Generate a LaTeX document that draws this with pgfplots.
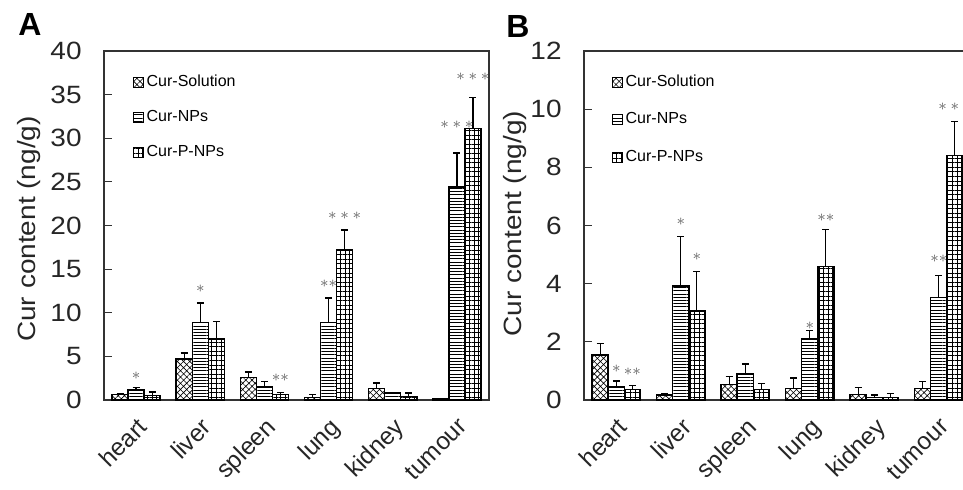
\documentclass[border=0pt]{standalone}
\usepackage{fontspec}
\setmainfont{Liberation Sans}
\newfontfamily\widefont[FakeStretch=1.12]{Liberation Sans}
\usepackage{pgfplots}
\usepackage{pgfplotstable}
\pgfplotsset{compat=1.18}
\usetikzlibrary{patterns.meta}

% organ order: heart liver spleen lung kidney tumour
\pgfplotstableread{
x sol solerr nps npserr pnps pnpserr
0 0.65 0.10 1.15 0.30 0.55 0.35
1 4.70 0.70 8.90 2.20 7.00 2.00
2 2.60 0.60 1.50 0.60 0.60 0.25
3 0.30 0.30 8.90 2.80 17.20 2.30
4 1.30 0.65 0.80 0.05 0.40 0.40
5 0.10 0.05 24.40 3.90 31.10 3.60
}\dataA

\pgfplotstableread{
x sol solerr nps npserr pnps pnpserr
0 1.55 0.40 0.45 0.20 0.37 0.12
1 0.17 0.06 3.92 1.70 3.06 1.35
2 0.54 0.27 0.89 0.35 0.37 0.20
3 0.40 0.35 2.10 0.30 4.60 1.27
4 0.18 0.26 0.08 0.09 0.09 0.14
5 0.40 0.24 3.53 0.76 8.40 1.18
}\dataB

\pgfplotsset{
  patchlegend/.style={legend image code/.code={\draw[##1,line width=0.5pt] (0pt,-2.5pt) rectangle (5pt,2.5pt);}},
  barbase/.style={ybar, bar width=0.25, bar shift=0pt, draw=black, line width=0.7pt, pattern color=black,
    error bars/y dir=plus, error bars/y explicit,
    error bars/error bar style={line width=0.6pt, black},
    error bars/error mark options={rotate=90, mark size=1.75pt, line width=0.7pt, black}, patchlegend},
  solbar/.style={barbase, pattern={Hatch[angle=45,distance=2.2pt,line width=0.3pt]}},
  npsbar/.style={barbase, pattern={Lines[angle=0,distance=1.6pt,line width=0.3pt]}},
  pnpsbar/.style={barbase, pattern={Hatch[angle=0,distance=2.3pt,line width=0.3pt]}},
  stars/.style={only marks, mark=none,
    nodes near coords, point meta=explicit symbolic,
    every node near coord/.style={anchor=center, inner sep=0pt, text=black!60, font=\fontsize{8}{9}\selectfont}},
  panel/.style={
    scale only axis, height=174.5pt, anchor=south west, clip=false,
    xmin=-0.5, xmax=5.5, ymin=0,
    xtick={0,...,5}, xticklabels={heart,liver,spleen,lung,kidney,tumour},
    xtick style={draw=none},
    xticklabel style={rotate=45, anchor=north east, inner sep=0pt, text=black!85, font=\fontsize{12.2}{14}\selectfont},
    xticklabel shift=8pt,
    ytick pos=left, tick align=inside, major tick length=4pt,
    ytick style={black!80, line width=0.5pt},
    yticklabel style={inner sep=0pt, xshift=-11pt, text=black!85, font=\widefont\fontsize{12.5}{14}\selectfont},
    /pgf/number format/assume math mode=true,
    axis line style={black!80, line width=0.6pt},
    ylabel={Cur content (ng/g)},
    ylabel style={font=\widefont\fontsize{12.5}{14}\selectfont, text=black!85, anchor=center},
    legend cell align=left,
    legend style={anchor=north west, draw=none, fill=none, inner sep=0pt,
      font=\fontsize{8}{9.6}\selectfont, nodes={inner sep=1.2pt}},
  }
}

\begin{document}
\begin{tikzpicture}
\path[use as bounding box] (0pt,0pt) rectangle (481.5pt,-244.5pt);

\node[font=\fontsize{16}{18}\selectfont\bfseries] at (15pt,-12pt) {A};
\node[font=\fontsize{16}{18}\selectfont\bfseries] at (259pt,-13pt) {B};

\begin{axis}[panel, at={(52pt,-200pt)}, width=192.5pt,
  ymax=40, ytick={0,5,...,40},
  ylabel style={at={(axis description cs:-0.196,0.49)}},
  legend style={at={(axis description cs:0.075,0.94)}, row sep=8pt}]
\addplot[solbar] table[x expr=\thisrow{x}-0.25, y=sol, y error=solerr] {\dataA};
\addplot[npsbar] table[x=x, y=nps, y error=npserr] {\dataA};
\addplot[pnpsbar] table[x expr=\thisrow{x}+0.25, y=pnps, y error=pnpserr] {\dataA};
\legend{Cur-Solution, Cur-NPs, Cur-P-NPs}
\addplot[stars] coordinates {
(0,2.75) [$\ast$]
(1,12.7) [$\ast$]
(2.25,2.6) [$\ast\ast$]
(3,13.3) [$\ast\ast$]
(3.25,21.1) [$\ast\ast\ast$]
(5,31.6) [$\ast\ast\ast$]
(5.25,37.0) [$\ast\ast\ast$]
};
\end{axis}

\begin{axis}[panel, at={(292pt,-200pt)}, width=193.5pt,
  ymax=12, ytick={0,2,...,12},
  ylabel style={at={(axis description cs:-0.178,0.505)}},
  legend style={at={(axis description cs:0.072,0.94)}, row sep=9.3pt}]
\addplot[solbar] table[x expr=\thisrow{x}-0.25, y=sol, y error=solerr] {\dataB};
\addplot[npsbar] table[x=x, y=nps, y error=npserr] {\dataB};
\addplot[pnpsbar] table[x expr=\thisrow{x}+0.25, y=pnps, y error=pnpserr] {\dataB};
\legend{Cur-Solution, Cur-NPs, Cur-P-NPs}
\addplot[stars] coordinates {
(0,1.09) [$\ast$]
(0.25,0.97) [$\ast\ast$]
(1,6.13) [$\ast$]
(1.25,4.91) [$\ast$]
(3,2.56) [$\ast$]
(3.25,6.25) [$\ast\ast$]
(5,4.87) [$\ast\ast$]
(5.25,10.09) [$\ast\ast\ast$]
};
\end{axis}
\end{tikzpicture}
\end{document}
